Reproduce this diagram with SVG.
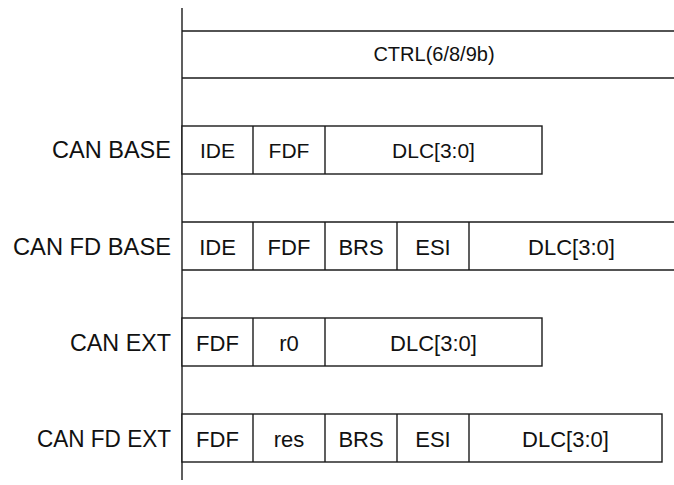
<svg xmlns="http://www.w3.org/2000/svg" width="674" height="485" viewBox="0 0 674 485">
<style>
.ln{stroke:#1a1a1a;stroke-width:1.4;fill:none}
.bx{stroke:#1a1a1a;stroke-width:1.4;fill:#fff}
.cell{font-family:"Liberation Sans",Arial,sans-serif;font-size:21px;fill:#111;text-anchor:middle}
.fd{font-size:22px}
.lbl{font-family:"Liberation Sans",Arial,sans-serif;font-size:24px;fill:#111;text-anchor:end}
</style>
<rect width="674" height="485" fill="#fff"/>
<g id="axis">
<line class="ln" x1="182" y1="8" x2="182" y2="480"/>
</g>
<g id="ctrl">
<line class="ln" x1="182" y1="31" x2="674" y2="31"/>
<line class="ln" x1="182" y1="78" x2="674" y2="78"/>
<text class="cell" x="434" y="61" style="font-size:20px">CTRL(6/8/9b)</text>
</g>
<g id="can-base">
<text class="lbl" x="171" y="158" textLength="119" lengthAdjust="spacingAndGlyphs">CAN BASE</text>
<rect class="bx" x="182" y="126" width="360" height="48"/>
<line class="ln" x1="253" y1="126" x2="253" y2="174"/>
<line class="ln" x1="325" y1="126" x2="325" y2="174"/>
<text class="cell" x="217.5" y="158">IDE</text>
<text class="cell" x="289" y="158">FDF</text>
<text class="cell" x="433.5" y="158">DLC[3:0]</text>
</g>
<g id="can-fd-base">
<text class="lbl" x="171" y="255" textLength="158" lengthAdjust="spacingAndGlyphs">CAN FD BASE</text>
<line class="ln" x1="182" y1="222" x2="674" y2="222"/>
<line class="ln" x1="182" y1="270" x2="674" y2="270"/>
<line class="ln" x1="253" y1="222" x2="253" y2="270"/>
<line class="ln" x1="325" y1="222" x2="325" y2="270"/>
<line class="ln" x1="397" y1="222" x2="397" y2="270"/>
<line class="ln" x1="469" y1="222" x2="469" y2="270"/>
<text class="cell fd" x="217.5" y="255">IDE</text>
<text class="cell fd" x="289" y="255">FDF</text>
<text class="cell fd" x="361" y="255">BRS</text>
<text class="cell fd" x="433" y="255">ESI</text>
<text class="cell fd" x="571.5" y="255">DLC[3:0]</text>
</g>
<g id="can-ext">
<text class="lbl" x="171" y="351" textLength="101" lengthAdjust="spacingAndGlyphs">CAN EXT</text>
<rect class="bx" x="182" y="318" width="360" height="48"/>
<line class="ln" x1="253" y1="318" x2="253" y2="366"/>
<line class="ln" x1="325" y1="318" x2="325" y2="366"/>
<text class="cell fd" x="217.5" y="351">FDF</text>
<text class="cell fd" x="289" y="351">r0</text>
<text class="cell fd" x="433.5" y="351">DLC[3:0]</text>
</g>
<g id="can-fd-ext">
<text class="lbl" x="171" y="447" textLength="134" lengthAdjust="spacingAndGlyphs">CAN FD EXT</text>
<rect class="bx" x="182" y="414" width="480" height="48"/>
<line class="ln" x1="253" y1="414" x2="253" y2="462"/>
<line class="ln" x1="325" y1="414" x2="325" y2="462"/>
<line class="ln" x1="397" y1="414" x2="397" y2="462"/>
<line class="ln" x1="469" y1="414" x2="469" y2="462"/>
<text class="cell fd" x="217.5" y="447">FDF</text>
<text class="cell fd" x="289" y="447">res</text>
<text class="cell fd" x="361" y="447">BRS</text>
<text class="cell fd" x="433" y="447">ESI</text>
<text class="cell fd" x="565.5" y="447">DLC[3:0]</text>
</g>
</svg>
